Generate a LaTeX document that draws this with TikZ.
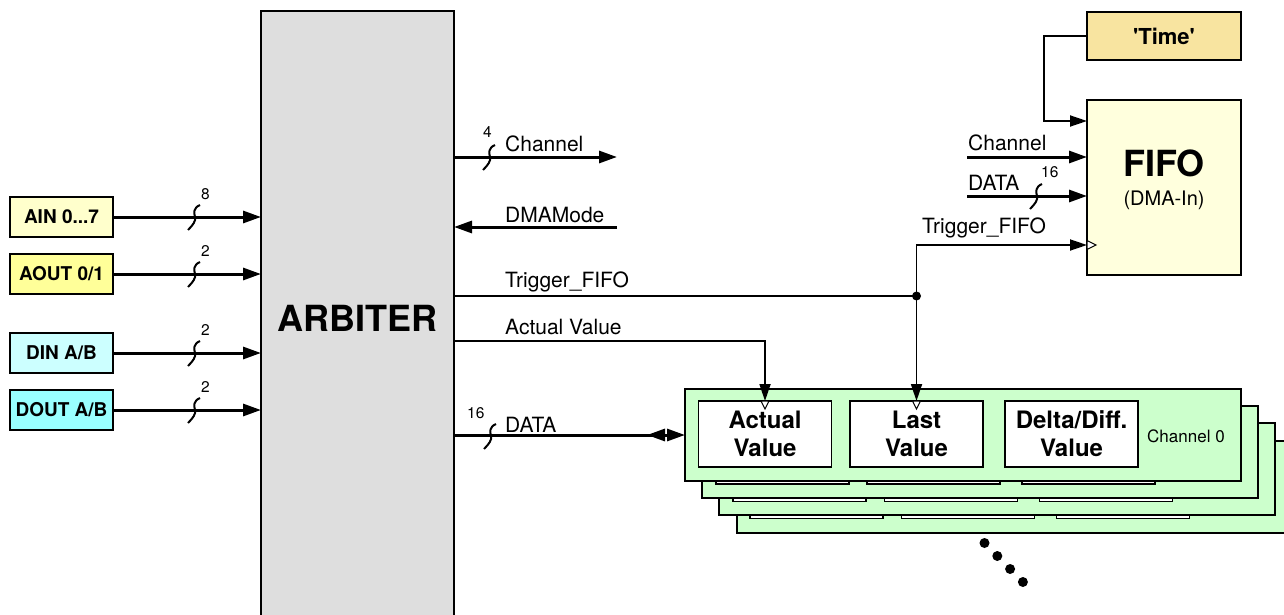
\documentclass[tikz,border=0pt]{standalone}
\usepackage{fontspec}
\setmainfont{TeX Gyre Heros}[Ligatures=TeXOff]
\usetikzlibrary{arrows.meta}

\definecolor{ainfill}{HTML}{FFFFCC}
\definecolor{aoutfill}{HTML}{FFFF99}
\definecolor{dinfill}{HTML}{CCFFFF}
\definecolor{doutfill}{HTML}{99FFFF}
\definecolor{arbfill}{HTML}{DEDEDE}
\definecolor{fifofill}{HTML}{FFFFDD}
\definecolor{timefill}{HTML}{F8E4A0}
\definecolor{chanfill}{HTML}{CCFFCC}

\newcommand\szIO{\fontsize{19}{22}\selectfont\bfseries}
\newcommand\szHuge{\fontsize{36}{40}\selectfont\bfseries}
\newcommand\szSig{\fontsize{21}{24}\selectfont}
\newcommand\szWidth{\fontsize{15.5}{18}\selectfont}
\newcommand\szCell{\fontsize{24}{28}\selectfont\bfseries}
\newcommand\szTime{\fontsize{22}{26}\selectfont\bfseries}
\newcommand\szChan{\fontsize{17}{20}\selectfont}
\newcommand\szSub{\fontsize{20}{23}\selectfont}

\begin{document}
\begin{tikzpicture}[x=1pt,y=-1pt,
  blk/.style={draw=black, line width=2pt, inner sep=0pt, outer sep=0pt},
  iobox/.style={blk, minimum width=103pt, minimum height=40pt, font=\szIO},
  cell/.style={draw=black, line width=1.6pt, fill=white, minimum width=133pt,
    minimum height=66pt, inner sep=0pt, outer sep=0pt, align=center, font=\szCell},
  board/.style={blk, fill=chanfill, minimum width=556pt, minimum height=92pt},
  bus/.style={line width=3pt, -{Triangle[length=18pt,width=12pt]}},
  busdbl/.style={line width=3pt,
    -{Triangle[length=18pt,width=12pt,reversed,sep=2pt]Triangle[length=18pt,width=12pt]}},
  wire/.style={line width=1.8pt},
  wirearrow/.style={wire, -{Triangle[length=17pt,width=11pt]}},
  clk/.style={draw=black, line width=1pt, fill=white},
  sig/.style={font=\szSig, anchor=base west, inner sep=0pt},
  bw/.style={font=\szWidth, anchor=base west, inner sep=0pt},
  pics/bustick/.style={code={\draw[line width=2pt]
    (-7,13) .. controls (-2,8) and (1,4) .. (0,0) .. controls (-1,-4) and (-2,-9) .. (5,-12);}}
]
\useasboundingbox (0,0) rectangle (1284,615);

% central arbiter
\node[blk, fill=arbfill, minimum width=193pt, minimum height=614pt, font=\szHuge] (arb) at (357.5,318) {ARBITER};

% input sources
\node[iobox, fill=ainfill]  (ain)  at (61.5,217) {AIN 0...7};
\node[iobox, fill=aoutfill] (aout) at (61.5,274) {AOUT 0/1};
\node[iobox, fill=dinfill]  (din)  at (61.5,353) {DIN A/B};
\node[iobox, fill=doutfill] (dout) at (61.5,410) {DOUT A/B};

\draw[bus] (ain.east)  -- (ain.east -| arb.west);
\draw[bus] (aout.east) -- (aout.east -| arb.west);
\draw[bus] (din.east)  -- (din.east -| arb.west);
\draw[bus] (dout.east) -- (dout.east -| arb.west);
\pic at (195,217) {bustick};
\pic at (195,274) {bustick};
\pic at (195,353) {bustick};
\pic at (195,410) {bustick};
\node[bw] (w8)  at (201,199) {8};
\node[bw] (w2a) at (201,256) {2};
\node[bw] (w2b) at (201,335) {2};
\node[bw] (w2c) at (201,392) {2};

% FIFO and time stamp source
\node[blk, fill=timefill, minimum width=154pt, minimum height=48pt, font=\szTime] (time) at (1164,36) {'Time'};
\node[blk, fill=fifofill, minimum width=154pt, minimum height=175pt] (fifo) at (1164,187.5) {};
\node[font=\szHuge, anchor=base, inner sep=0pt] (fifott) at (1164,176) {FIFO};
\node[font=\szSub, anchor=base, inner sep=0pt] (fifost) at (1164,205) {(DMA-In)};

% channel register boards, back to front
\foreach \k in {3,2,1} {
  \begin{scope}[shift={(17.2*\k,17.2*\k)}]
    \node[board] (board\k) at (963,435) {};
    \node[cell] (act\k) at (765,434) {};
    \node[cell] (last\k) at (916.5,434) {};
    \node[cell] (delta\k) at (1071.5,434) {};
  \end{scope}
}
\node[board] (board0) at (963,435) {};
\node[cell] (act) at (765,434) {Actual\\Value};
\node[cell] (last) at (916.5,434) {Last\\Value};
\node[cell] (delta) at (1071.5,434) {Delta/Diff.\\Value};
\node[font=\szChan, anchor=base west, inner sep=0pt] (ch0) at (1147,442) {Channel 0};

% more channels
\foreach \i in {0,1,2,3} \fill (984.5+12.8*\i,543+13*\i) circle[radius=5pt];

% arbiter outputs
\coordinate (chout) at (617,157);
\coordinate (dmain) at (617,227);
\draw[bus] (chout -| arb.east) -- (chout);
\pic at (490,157) {bustick};
\node[bw] (w4) at (483,138) {4};
\node[sig] (lch) at (505,151) {Channel};
\draw[bus] (dmain) -- (dmain -| arb.east);
\node[sig] (ldma) at (505,222) {DMAMode};

\coordinate (tj) at (last.north |- 0,296);
\coordinate (avc) at (act.north |- 0,341);
\coordinate (fintime) at (fifo.west |- 0,121);
\coordinate (finch) at (fifo.west |- 0,157);
\coordinate (findt) at (fifo.west |- 0,196);
\coordinate (fintr) at (fifo.west |- 0,245);

\draw[wire] (arb.east |- tj) -- (tj);
\node[sig] (ltrig) at (505,287) {Trigger\_FIFO};
\draw[wirearrow] (tj) -- (last.north);
\draw[wirearrow] (tj) |- (fintr);
\fill (tj) circle[radius=4.5pt];
\node[sig] (ltrig2) at (922,233) {Trigger\_FIFO};

\draw[wirearrow] (arb.east |- avc) -- (avc) -- (act.north);
\node[sig] (lav) at (505,334) {Actual Value};

\draw[busdbl] (arb.east |- board0.west) -- (board0.west);
\pic at (491,436) {bustick};
\node[bw] (w16a) at (467,418) {16};
\node[sig] (ldata) at (505,432) {DATA};

% FIFO inputs
\draw[wirearrow] (time.west) -- ++(-43,0) |- (fintime);
\coordinate (fch) at (967,157);
\coordinate (fdt) at (967,196);
\draw[bus] (fch) -- (finch);
\node[sig] (lfch) at (968,150) {Channel};
\draw[bus] (fdt) -- (findt);
\pic at (1037,196) {bustick};
\node[bw] (w16b) at (1041,177) {16};
\node[sig] (lfdt) at (968,190) {DATA};

% edge-triggered input marks
\draw[clk] ([xshift=-4pt]act.north) -- ([yshift=-8pt]act.north) -- ([xshift=4pt]act.north) -- cycle;
\draw[clk] ([xshift=-4pt]last.north) -- ([yshift=-8pt]last.north) -- ([xshift=4pt]last.north) -- cycle;
\draw[clk] ([yshift=4.5pt]fintr) -- ([xshift=9pt]fintr) -- ([yshift=-4.5pt]fintr) -- cycle;
\end{tikzpicture}
\end{document}
